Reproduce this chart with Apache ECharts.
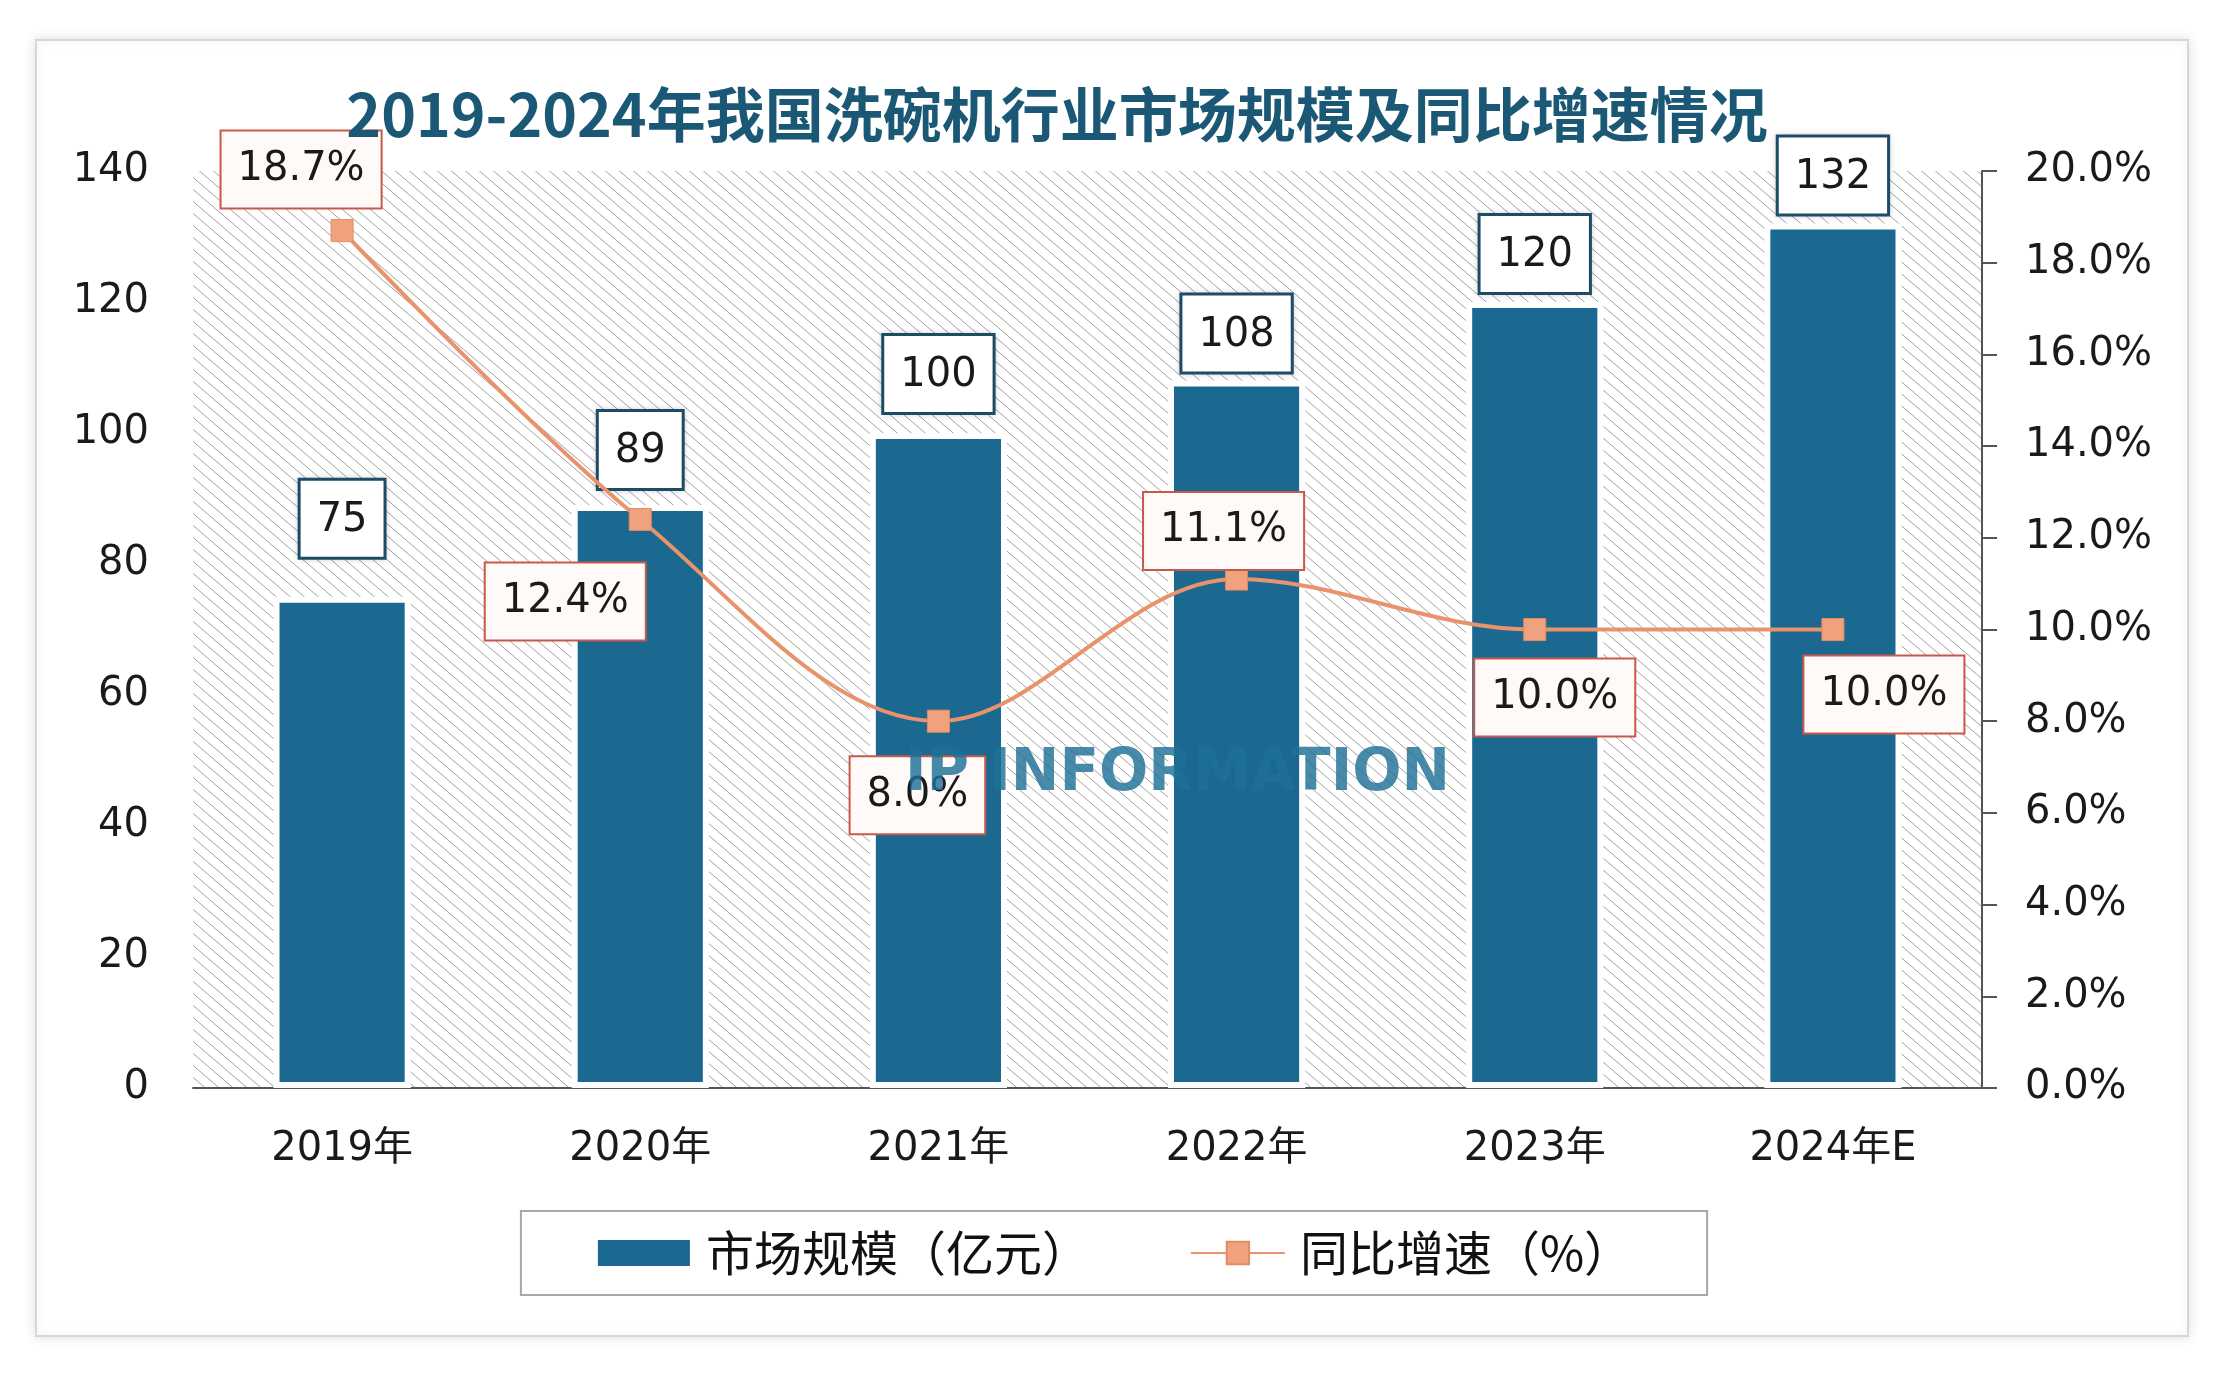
<!DOCTYPE html>
<html>
<head>
<meta charset="utf-8">
<title>2019-2024年我国洗碗机行业市场规模及同比增速情况</title>
<script src="https://cdn.jsdelivr.net/npm/echarts@6/dist/echarts.min.js"></script>
<style>
  html, body { margin: 0; padding: 0; background: #ffffff; }
  #chart { width: 2228px; height: 1376px; }
</style>
</head>
<body>
<div id="chart"></div>
<script>
// chart data
const categories = ["2019年", "2020年", "2021年", "2022年", "2023年", "2024年E"];
const marketSize = [75, 89, 100, 108, 120, 132];       // 亿元
const growthRate = [18.7, 12.4, 8.0, 11.1, 10.0, 10.0]; // %
const leftTicks = { min: 0, max: 140, interval: 20 };
const rightTicks = { min: 0, max: 20, interval: 2 };

const numFont = "DejaVu Sans, Noto Sans CJK SC";
const cjkFont = "Noto Sans CJK SC";

// hatched plot background
function makeHatch() {
  const w = 14, h = 12;
  const c = document.createElement("canvas");
  c.width = w;
  c.height = h;
  const ctx = c.getContext("2d");
  ctx.fillStyle = "#ffffff";
  ctx.fillRect(0, 0, w, h);
  ctx.strokeStyle = "#a2a2a2";
  ctx.lineWidth = 1;
  [-w, 0, w].forEach((d) => {
    ctx.beginPath();
    ctx.moveTo(d - w, -h);
    ctx.lineTo(d + 2 * w, 2 * h);
    ctx.stroke();
  });
  return c;
}

// where each growth label sits relative to its point
const lineLabelOffsets = [[-41, -61], [-75, 82], [-21, 74], [-13, -48], [20, 68], [51, 65]];
const barLabelGaps = [40, 17, 21, 9, 10, 10];

const chart = echarts.init(document.getElementById("chart"));

chart.setOption({
  backgroundColor: "#ffffff",
  animation: false,
  title: {
    text: "2019-2024年我国洗碗机行业市场规模及同比增速情况",
    left: 1052,
    textAlign: "center",
    top: 80,
    textStyle: {
      fontFamily: cjkFont,
      fontSize: 59,
      fontWeight: "bold",
      color: "#1b5876",
    },
  },
  graphic: [
    {
      type: "rect",
      z: -10,
      shape: { x: 36, y: 40, width: 2152, height: 1296 },
      style: {
        fill: "#ffffff",
        stroke: "#d6d6d6",
        lineWidth: 2,
        shadowBlur: 12,
        shadowColor: "rgba(0,0,0,0.12)",
      },
    },
    {
      type: "text",
      z: 20,
      left: 905,
      top: 746,
      style: {
        text: "IP INFORMATION",
        fontFamily: "DejaVu Sans",
        fontSize: 58,
        fontWeight: "bold",
        fill: "rgba(31,112,150,0.82)",
      },
    },
  ],
  legend: {
    top: 1211,
    left: "center",
    padding: [18, 75],
    itemGap: 100,
    itemWidth: 94,
    itemHeight: 28,
    borderColor: "#a8a8a8",
    borderWidth: 2,
    textStyle: {
      fontFamily: cjkFont,
      fontSize: 48,
      color: "#111111",
      padding: [0, 0, 0, 10],
    },
    data: [
      { name: "市场规模（亿元）", icon: "rect" },
      { name: "同比增速（%）" },
    ],
  },
  grid: {
    left: 193,
    right: 246,
    top: 171,
    bottom: 288,
    show: true,
    borderWidth: 0,
    backgroundColor: { image: makeHatch(), repeat: "repeat" },
  },
  xAxis: {
    type: "category",
    data: categories,
    axisLine: { lineStyle: { color: "#555555", width: 2 } },
    axisTick: { show: false },
    axisLabel: {
      margin: 42,
      fontFamily: numFont,
      fontSize: 40,
      color: "#1a1a1a",
    },
  },
  yAxis: [
    {
      type: "value",
      min: leftTicks.min,
      max: leftTicks.max,
      interval: leftTicks.interval,
      axisLine: { show: false },
      axisTick: { show: false },
      splitLine: { show: false },
      axisLabel: {
        margin: 44,
        fontFamily: numFont,
        fontSize: 40,
        color: "#1a1a1a",
      },
    },
    {
      type: "value",
      position: "right",
      min: rightTicks.min,
      max: rightTicks.max,
      interval: rightTicks.interval,
      axisLine: { show: true, lineStyle: { color: "#555555", width: 2 } },
      axisTick: { show: true, length: 15, lineStyle: { color: "#555555", width: 2 } },
      splitLine: { show: false },
      axisLabel: {
        margin: 43,
        fontFamily: numFont,
        fontSize: 40,
        color: "#1a1a1a",
        formatter: (v) => v.toFixed(1) + "%",
      },
    },
  ],
  series: [
    {
      name: "市场规模（亿元）",
      type: "bar",
      barWidth: "46%",
      itemStyle: {
        color: "#1b6991",
        borderColor: "#ffffff",
        borderWidth: 6,
      },
      data: marketSize.map((v, i) => ({
        value: v,
        label: { distance: barLabelGaps[i] },
      })),
      label: {
        show: true,
        position: "top",
        fontFamily: numFont,
        fontSize: 40,
        color: "#1a1a1a",
        backgroundColor: "#ffffff",
        borderColor: "#1f4f6c",
        borderWidth: 3,
        padding: [20, 16, 16, 16],
        shadowBlur: 6,
        shadowColor: "rgba(0,0,0,0.15)",
      },
    },
    {
      name: "同比增速（%）",
      type: "line",
      yAxisIndex: 1,
      smooth: 0.35,
      symbol: "rect",
      symbolSize: 22,
      lineStyle: { color: "#e9936c", width: 4 },
      itemStyle: { color: "#f0a27e", borderColor: "#e58a62", borderWidth: 1 },
      z: 5,
      data: growthRate.map((v, i) => ({
        value: v,
        label: { offset: lineLabelOffsets[i] },
      })),
      label: {
        show: true,
        position: "inside",
        fontFamily: numFont,
        fontSize: 40,
        color: "#1a1a1a",
        backgroundColor: "#fffaf7",
        borderColor: "#c8584a",
        borderWidth: 2,
        padding: [20, 16, 16, 16],
        formatter: (p) => p.value.toFixed(1) + "%",
      },
    },
  ],
});
</script>
</body>
</html>
